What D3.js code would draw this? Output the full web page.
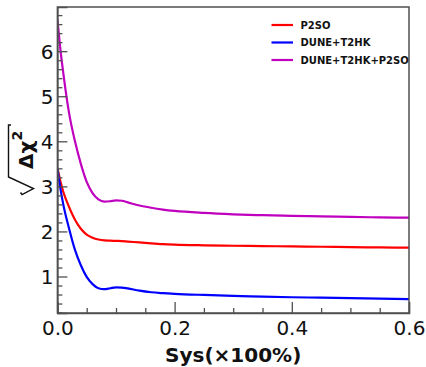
<!DOCTYPE html>
<html>
<head>
<meta charset="utf-8">
<script src="https://cdn.jsdelivr.net/npm/d3@7"></script>
<style>
  html, body { margin: 0; padding: 0; background: #fff; }
  svg { display: block; }
  text { font-family: "DejaVu Sans", sans-serif; }
</style>
</head>
<body>
<svg id="chart" width="426" height="367"></svg>
<script>
const sysValues = [0, 0.005, 0.01, 0.02, 0.03, 0.04, 0.05, 0.06, 0.07, 0.08, 0.09, 0.10, 0.11, 0.12, 0.14, 0.16, 0.18, 0.20, 0.25, 0.30, 0.35, 0.40, 0.45, 0.50, 0.55, 0.60];
const p2so = [3.41, 3.12, 2.88, 2.54, 2.26, 2.06, 1.93, 1.86, 1.82, 1.80, 1.795, 1.79, 1.785, 1.775, 1.755, 1.735, 1.718, 1.707, 1.692, 1.682, 1.675, 1.668, 1.66, 1.652, 1.645, 1.64];
const duneT2hk = [3.40, 2.96, 2.60, 2.06, 1.59, 1.25, 0.99, 0.83, 0.74, 0.72, 0.74, 0.76, 0.755, 0.735, 0.685, 0.65, 0.63, 0.615, 0.59, 0.57, 0.555, 0.54, 0.53, 0.52, 0.51, 0.50];
const duneT2hkP2so = [6.70, 6.05, 5.52, 4.62, 4.00, 3.50, 3.10, 2.85, 2.71, 2.66, 2.67, 2.69, 2.68, 2.645, 2.575, 2.525, 2.485, 2.455, 2.41, 2.38, 2.36, 2.345, 2.333, 2.322, 2.312, 2.305];
const seriesNames = ["P2SO", "DUNE+T2HK", "DUNE+T2HK+P2SO"];
const seriesColors = ["#ff0000", "#0000ff", "#bf00bf"];
const xTickLabels = ["0.0", "0.2", "0.4", "0.6"];
const yTickLabels = ["1", "2", "3", "4", "5", "6"];

const svg = d3.select("#chart");
const L = 57.4, R = 409, T = 7, B = 313;
const x = d3.scaleLinear().domain([0, 0.6]).range([L, R]);
const y = d3.scaleLinear().domain([0.19, 6.98]).range([B, T]);
const frameColor = "#505050";

const allSeries = [p2so, duneT2hk, duneT2hkP2so];
const line = d3.line().x(d => x(d[0])).y(d => y(d[1])).curve(d3.curveMonotoneX);

const plot = svg.append("g");
plot.append("defs").append("clipPath").attr("id", "clip")
  .append("rect").attr("x", L).attr("y", T).attr("width", R - L).attr("height", B - T);

allSeries.forEach((vals, i) => {
  plot.append("path")
    .datum(sysValues.map((s, j) => [s, vals[j]]))
    .attr("clip-path", "url(#clip)")
    .attr("fill", "none")
    .attr("stroke", seriesColors[i])
    .attr("stroke-width", 2.2)
    .attr("d", line);
});

// frame
svg.append("rect").attr("x", L).attr("y", T).attr("width", R - L).attr("height", B - T)
  .attr("fill", "none").attr("stroke", frameColor).attr("stroke-width", 1.5);

// x axis (ticks inward)
const xMajor = xTickLabels.map(Number);
const xMinor = d3.range(0, 0.6001, 0.05).filter(v => !xMajor.some(m => Math.abs(m - v) < 1e-6));
const xAxis = d3.axisBottom(x).tickValues(xMajor).tickSize(-11).tickPadding(18)
  .tickFormat((d, i) => xTickLabels[i]);
const gx = svg.append("g").attr("transform", `translate(0,${B})`).call(xAxis);
gx.select(".domain").attr("stroke", frameColor).attr("stroke-width", 1.5);
gx.selectAll(".tick line").attr("stroke", frameColor).attr("stroke-width", 1.3);
gx.selectAll(".tick text").attr("font-size", 20).attr("fill", "#111").attr("dy", "0").attr("y", 21.5);
const gxm = svg.append("g").attr("transform", `translate(0,${B})`)
  .call(d3.axisBottom(x).tickValues(xMinor).tickSize(-5).tickFormat(""));
gxm.select(".domain").remove();
gxm.selectAll(".tick line").attr("stroke", frameColor).attr("stroke-width", 1.3);

// y axis
const yMajor = yTickLabels.map(Number);
const yMinor = d3.range(0.2, 6.99, 0.2).filter(v => !yMajor.some(m => Math.abs(m - v) < 1e-6));
const yAxis = d3.axisLeft(y).tickValues(yMajor).tickSize(-10).tickPadding(14)
  .tickFormat((d, i) => yTickLabels[i]);
const gy = svg.append("g").attr("transform", `translate(${L},0)`).call(yAxis);
gy.select(".domain").attr("stroke", frameColor).attr("stroke-width", 1.5);
gy.selectAll(".tick line").attr("stroke", frameColor).attr("stroke-width", 1.3);
gy.selectAll(".tick text").attr("font-size", 20).attr("fill", "#111").attr("x", -4).attr("dy", "0.36em");
const gym = svg.append("g").attr("transform", `translate(${L},0)`)
  .call(d3.axisLeft(y).tickValues(yMinor).tickSize(-5).tickFormat(""));
gym.select(".domain").remove();
gym.selectAll(".tick line").attr("stroke", frameColor).attr("stroke-width", 1.3);

// x label
svg.append("text").attr("x", (L + R) / 2).attr("y", 362)
  .attr("text-anchor", "middle").attr("font-size", 20).attr("font-weight", "bold").attr("fill", "#111")
  .text("Sys(×100%)");

// y label: sqrt(Δχ²)
const yl = svg.append("g");
yl.append("path")
  .attr("d", "M 11,125 H 8.5 V 177 L 33.5,188.5 L 22,194.5 L 20.5,192.5")
  .attr("fill", "none").attr("stroke", "#111").attr("stroke-width", 1.4).attr("stroke-linejoin", "miter");
const ylt = yl.append("text").attr("transform", "translate(33,169) rotate(-90)")
  .attr("font-size", 20).attr("font-weight", "bold").attr("fill", "#111");
ylt.append("tspan").text("Δχ");
ylt.append("tspan").attr("dy", -11).attr("font-size", 14).text("2");

// legend
const lg = svg.append("g");
seriesNames.forEach((name, i) => {
  const yy = 25 + i * 17.5;
  lg.append("line").attr("x1", 271.5).attr("x2", 293).attr("y1", yy).attr("y2", yy)
    .attr("stroke", seriesColors[i]).attr("stroke-width", 2.2);
  lg.append("text").attr("x", 300.5).attr("y", yy).attr("dy", "0.36em")
    .attr("font-size", 10).attr("font-weight", "bold").attr("fill", "#111").text(name);
});
</script>
</body>
</html>
